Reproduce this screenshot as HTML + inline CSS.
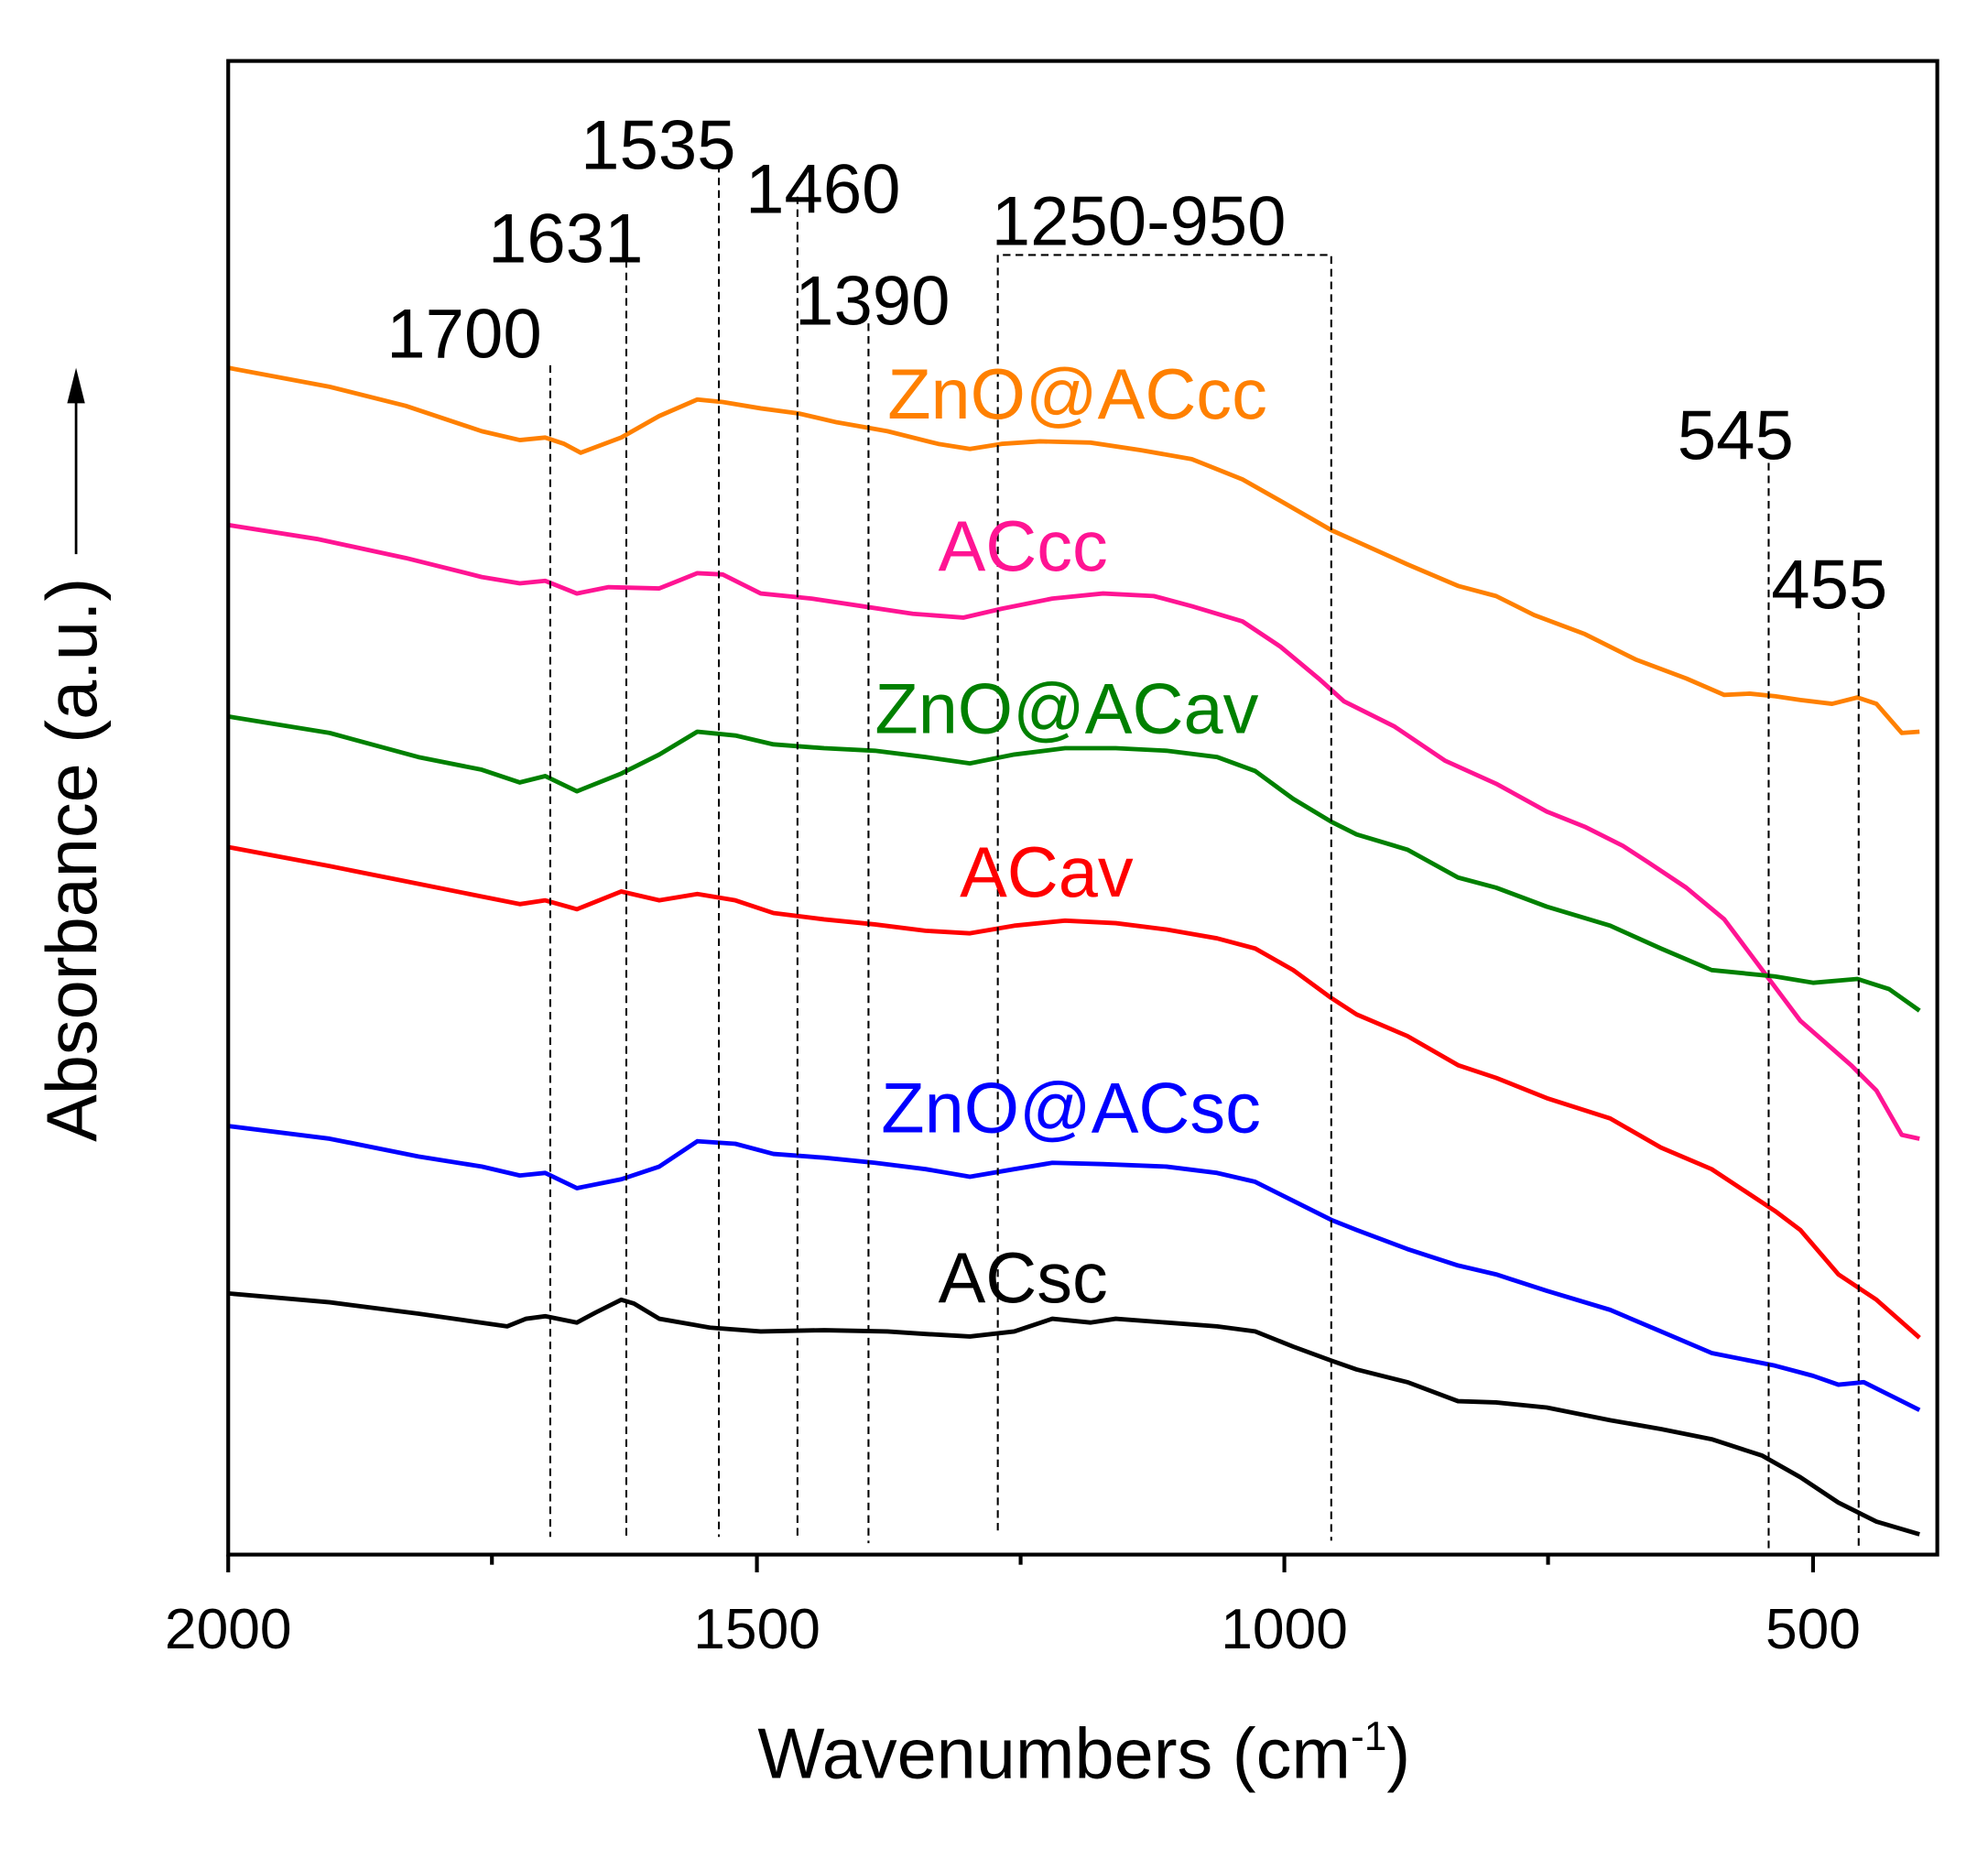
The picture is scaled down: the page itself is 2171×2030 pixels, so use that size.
<!DOCTYPE html>
<html><head><meta charset="utf-8"><style>html,body{margin:0;padding:0;background:#fff}svg{display:block}</style></head>
<body>
<svg xmlns="http://www.w3.org/2000/svg" width="2171" height="2030" viewBox="0 0 1568 1466" font-family="Liberation Sans, Arial, sans-serif">
<rect width="1568" height="1466" fill="#fff"/>
<g fill="none" stroke-width="3.5" stroke-linejoin="round">
<polyline stroke="#ff8000" points="180,290 260,305 320,320 380,340 410,347 430,345 445,350 458,357 490,345 520,328 550,315 570,317 600,322 630,326 660,333 700,340 740,350 765,354 790,350 820,348 860,349 900,355 940,362 980,378 1010,395 1050,418 1070,427 1110,445 1150,462 1180,470 1210,485 1250,500 1290,520 1330,535 1360,548 1380,547 1400,549 1420,552 1445,555 1465,550 1480,555 1500,578 1514,577"/>
<polyline stroke="#ff1493" points="180,414 250,425 320,440 380,455 410,460 430,458 455,468 480,463 520,464 550,452 570,453 600,468 640,472 680,478 720,484 760,487 790,480 830,472 870,468 910,470 940,478 980,490 1010,510 1040,535 1060,553 1100,573 1140,600 1180,618 1220,640 1250,652 1280,667 1300,680 1330,700 1360,725 1390,765 1420,805 1460,840 1480,860 1500,895 1514,898"/>
<polyline stroke="#008000" points="180,565 260,578 330,597 380,607 410,617 430,612 455,624 490,610 520,595 550,577 580,580 610,587 650,590 690,592 730,597 765,602 800,595 840,590 880,590 920,592 960,597 990,608 1020,630 1050,648 1070,658 1110,670 1150,692 1180,700 1220,715 1270,730 1310,748 1350,765 1400,770 1430,775 1465,772 1490,780 1514,797"/>
<polyline stroke="#ff0000" points="180,668 260,683 330,697 380,707 410,713 430,710 455,717 490,703 520,710 550,705 580,710 610,720 650,725 690,729 730,734 765,736 800,730 840,726 880,728 920,733 960,740 990,748 1020,765 1050,787 1070,800 1110,817 1150,840 1180,850 1220,866 1270,882 1310,905 1350,922 1400,955 1420,970 1450,1005 1480,1025 1514,1055"/>
<polyline stroke="#0000ff" points="180,888 260,898 330,912 380,920 410,927 430,925 455,937 490,930 520,920 550,900 580,902 610,910 650,913 690,917 730,922 765,928 800,922 830,917 870,918 920,920 960,925 990,932 1020,947 1050,962 1070,970 1110,985 1150,998 1180,1005 1220,1018 1270,1033 1310,1050 1350,1067 1400,1077 1430,1085 1450,1092 1470,1090 1490,1100 1514,1112"/>
<polyline stroke="#000" points="180,1020 260,1027 330,1036 400,1046 415,1040 430,1038 455,1043 470,1035 490,1025 500,1028 520,1040 560,1047 600,1050 650,1049 700,1050 730,1052 765,1054 800,1050 830,1040 860,1043 880,1040 920,1043 960,1046 990,1050 1020,1062 1050,1073 1070,1080 1110,1090 1150,1105 1180,1106 1220,1110 1270,1120 1310,1127 1350,1135 1390,1148 1420,1165 1450,1185 1480,1200 1514,1210"/>
</g>
<g stroke="#000" stroke-width="1.5" stroke-dasharray="6,4" fill="none">
<line x1="434" y1="288" x2="434" y2="1212"/>
<line x1="494" y1="205" x2="494" y2="1212"/>
<line x1="567" y1="130" x2="567" y2="1212"/>
<line x1="629" y1="155" x2="629" y2="1212"/>
<line x1="685" y1="255" x2="685" y2="1217"/>
<polyline points="787,1207 787,201 1050,201 1050,1215"/>
<line x1="1395" y1="365" x2="1395" y2="1225"/>
<line x1="1466" y1="483" x2="1466" y2="1222"/>
</g>
<rect x="180" y="48" width="1348" height="1178" fill="none" stroke="#000" stroke-width="3"/>
<g stroke="#000" stroke-width="3">
<line x1="180" y1="1226" x2="180" y2="1240"/><line x1="597" y1="1226" x2="597" y2="1240"/><line x1="1013" y1="1226" x2="1013" y2="1240"/><line x1="1430" y1="1226" x2="1430" y2="1240"/>
<line x1="388" y1="1226" x2="388" y2="1234"/><line x1="805" y1="1226" x2="805" y2="1234"/><line x1="1221" y1="1226" x2="1221" y2="1234"/>
</g>
<g font-size="45" text-anchor="middle" fill="#000">
<text x="180" y="1300">2000</text><text x="597" y="1300">1500</text><text x="1013" y="1300">1000</text><text x="1430" y="1300">500</text>
</g>
<text x="855" y="1402" font-size="56" text-anchor="middle">Wavenumbers (cm<tspan font-size="32" dy="-22">-1</tspan><tspan dy="22">)</tspan></text>
<text transform="translate(76,678) rotate(-90)" font-size="56" text-anchor="middle">Absorbance (a.u.)</text>
<line x1="60" y1="437" x2="60" y2="310" stroke="#000" stroke-width="2"/>
<polygon points="60,290 53,318 67,318" fill="#000"/>
<g font-size="55" fill="#000">
<text x="305" y="282">1700</text><text x="385" y="207">1631</text><text x="458" y="133">1535</text>
<text x="588" y="168">1460</text><text x="627" y="256">1390</text><text x="782" y="193">1250-950</text>
<text x="1323" y="362">545</text><text x="1397" y="480">455</text>
</g>
<g font-size="56">
<text x="700" y="330" fill="#ff8000">ZnO@ACcc</text>
<text x="740" y="450" fill="#ff1493">ACcc</text>
<text x="690" y="578" fill="#008000">ZnO@ACav</text>
<text x="757" y="707" fill="#ff0000">ACav</text>
<text x="695" y="893" fill="#0000ff">ZnO@ACsc</text>
<text x="740" y="1027" fill="#000">ACsc</text>
</g>
</svg>
</body></html>
